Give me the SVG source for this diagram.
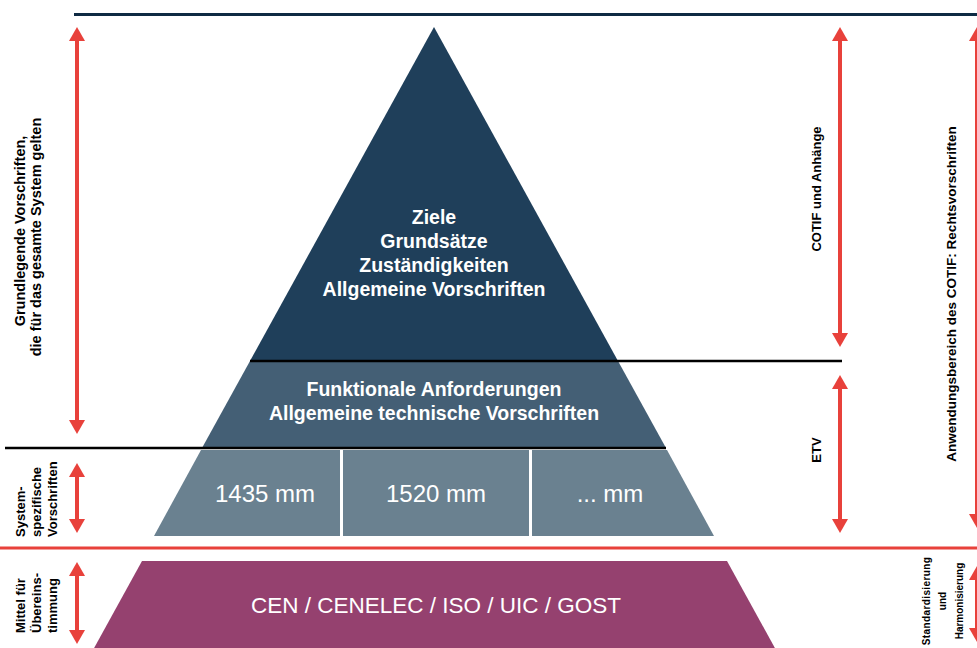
<svg xmlns="http://www.w3.org/2000/svg" width="977" height="648" viewBox="0 0 977 648">
<style>
.lbl{font-family:"Liberation Sans",Arial,sans-serif;font-weight:bold;fill:#000;}
.side{font-size:14.5px;}
.side13{font-size:13px;}
.small{font-size:10px;}
.wt{font-family:"Liberation Sans",Arial,sans-serif;fill:#fff;text-anchor:middle;}
.tb{font-weight:bold;font-size:19.5px;}
.arrow{stroke:#e8413b;stroke-width:4;fill:none;marker-start:url(#ah);marker-end:url(#ah);}
</style>
<defs>
<marker id="ah" viewBox="0 0 14 16" refX="0" refY="8" markerWidth="14" markerHeight="16" markerUnits="userSpaceOnUse" orient="auto-start-reverse">
<path d="M0,0 L14,8 L0,16 z" fill="#e8413b"/>
</marker>
</defs>
<rect width="977" height="648" fill="#fff"/>

<g id="tier1">
<polygon points="434,27 250,361 618,361" fill="#1f3f5a"/>
<text class="wt tb" x="434" y="224">Ziele</text>
<text class="wt tb" x="434" y="248">Grundsätze</text>
<text class="wt tb" x="434" y="272">Zuständigkeiten</text>
<text class="wt tb" x="434" y="296">Allgemeine Vorschriften</text>
</g>

<g id="tier2">
<polygon points="250,361 618,361 666,448 202,448" fill="#445f75"/>
<text class="wt tb" x="434" y="396">Funktionale Anforderungen</text>
<text class="wt tb" x="434" y="420">Allgemeine technische Vorschriften</text>
</g>

<g id="tier3">
<polygon points="201,450 667,450 714,536 154,536" fill="#6a8190"/>
<line x1="341.5" y1="450" x2="341.5" y2="536" stroke="#fff" stroke-width="3"/>
<line x1="530.5" y1="450" x2="530.5" y2="536" stroke="#fff" stroke-width="3"/>
<text class="wt" x="265" y="502" font-size="24">1435 mm</text>
<text class="wt" x="436" y="502" font-size="24">1520 mm</text>
<text class="wt" x="610" y="502" font-size="24">... mm</text>
</g>

<g id="base">
<polygon points="142,561 727,561 776,650 93,650" fill="#95416f"/>
<text class="wt" x="436" y="613" font-size="22.5">CEN / CENELEC / ISO / UIC / GOST</text>
</g>

<g id="rules">
<line x1="74" y1="14.5" x2="977" y2="14.5" stroke="#0e2a43" stroke-width="3"/>
<line x1="250" y1="361" x2="842" y2="361" stroke="#000" stroke-width="2.5"/>
<line x1="5" y1="448" x2="666" y2="448" stroke="#000" stroke-width="2.5"/>
<line x1="0" y1="548" x2="977" y2="548" stroke="#e8413b" stroke-width="3"/>
</g>

<g id="connectors">
<line class="arrow" x1="77" y1="41" x2="77" y2="420"/>
<line class="arrow" x1="77" y1="477" x2="77" y2="519"/>
<line class="arrow" x1="77" y1="576" x2="77" y2="630"/>
<line class="arrow" x1="840" y1="41" x2="840" y2="333"/>
<line class="arrow" x1="840" y1="389" x2="840" y2="519"/>
<line class="arrow" x1="977" y1="41" x2="977" y2="514"/>
<line class="arrow" x1="977" y1="580" x2="977" y2="628"/>
</g>

<g id="label-grundlegende">
<text class="lbl side" text-anchor="middle" transform="translate(25,231) rotate(-90)">Grundlegende Vorschriften,</text>
<text class="lbl side" text-anchor="middle" transform="translate(41,237) rotate(-90)">die für das gesamte System gelten</text>
</g>

<g id="label-systemspezifisch">
<text class="lbl side13" transform="translate(25,537) rotate(-90)">System-</text>
<text class="lbl side13" transform="translate(41,537) rotate(-90)">spezifische</text>
<text class="lbl side13" transform="translate(57,537) rotate(-90)">Vorschriften</text>
</g>

<g id="label-mittel">
<text class="lbl side13" transform="translate(25,633) rotate(-90)">Mittel für</text>
<text class="lbl side13" transform="translate(41,633) rotate(-90)">Übereins-</text>
<text class="lbl side13" transform="translate(57,633) rotate(-90)">timmung</text>
</g>

<g id="label-cotif">
<text class="lbl side13" text-anchor="middle" font-size="13.5" transform="translate(821,189) rotate(-90)">COTIF und Anhänge</text>
</g>

<g id="label-etv">
<text class="lbl side13" text-anchor="middle" font-size="13.5" transform="translate(821,450) rotate(-90)">ETV</text>
</g>

<g id="label-anwendungsbereich">
<text class="lbl" text-anchor="middle" font-size="13.5" transform="translate(956,294) rotate(-90)">Anwendungsbereich des COTIF: Rechtsvorschriften</text>
</g>

<g id="label-standardisierung">
<text class="lbl small" text-anchor="middle" letter-spacing="0.4" transform="translate(930,601) rotate(-90)">Standardisierung</text>
<text class="lbl small" text-anchor="middle" transform="translate(946,601) rotate(-90)">und</text>
<text class="lbl small" text-anchor="middle" transform="translate(963,601) rotate(-90)">Harmonisierung</text>
</g>
</svg>
